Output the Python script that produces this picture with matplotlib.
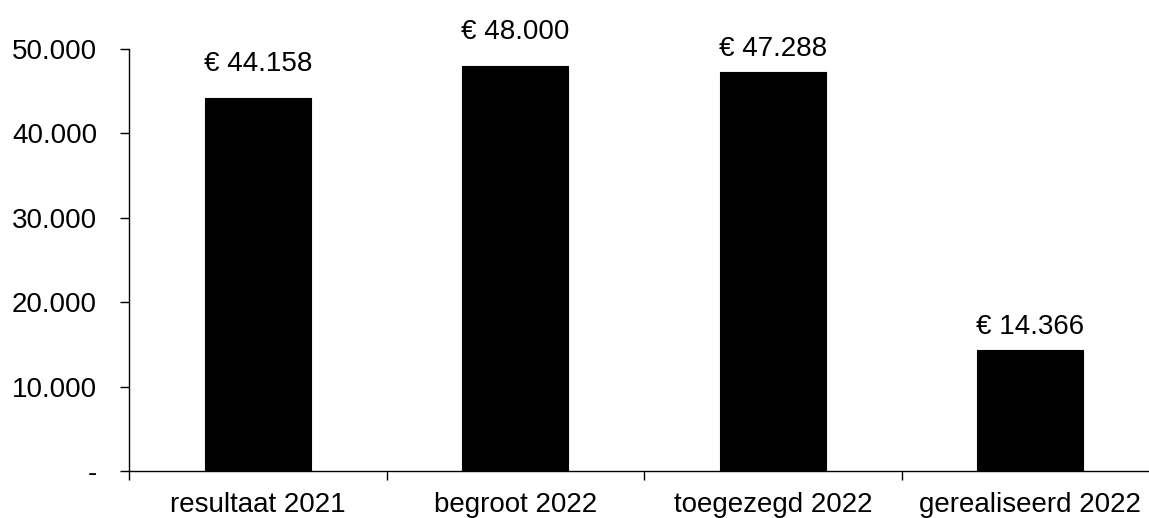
import matplotlib
matplotlib.use("Agg")
import matplotlib.pyplot as plt
from matplotlib.ticker import FixedLocator, FuncFormatter

categories = ["resultaat 2021", "begroot 2022", "toegezegd 2022", "gerealiseerd 2022"]
values = [44158, 48000, 47288, 14366]
yticks = [0, 10000, 20000, 30000, 40000, 50000]
label_gap_pt = [19.5, 19.5, 11.5, 11.5]

plt.rcParams['font.family'] = ['Liberation Sans', 'DejaVu Sans']

def fmt(v):
    return f"{int(v):,}".replace(",", ".")

fig = plt.figure(figsize=(11.49, 5.18), dpi=100)
ax = fig.add_axes([129/1149, 47/518, 1030/1149, 422/518])

x = list(range(len(categories)))
bars = ax.bar(x, values, width=0.41, color="black", edgecolor="black", linewidth=0.8)
for xi, v, g in zip(x, values, label_gap_pt):
    ax.annotate("€ " + fmt(v), (xi, v), xytext=(0, g), textcoords="offset points",
                ha="center", va="baseline", fontsize=20, annotation_clip=False)

ax.set_xlim(-0.5, len(categories) - 0.5)
ax.set_ylim(0, 50000)
ax.set_yticks(yticks)
ax.yaxis.set_major_formatter(FuncFormatter(lambda v, p: "-" if v == 0 else fmt(v)))
ax.tick_params(axis="y", length=6.5, width=1, pad=16.5, labelsize=20, direction="out")

ax.xaxis.set_major_locator(FixedLocator([i + 0.5 for i in range(-1, len(categories))]))
ax.xaxis.set_major_formatter(FuncFormatter(lambda v, p: ""))
ax.xaxis.set_minor_locator(FixedLocator(x))
ax.set_xticklabels(categories, minor=True)
ax.tick_params(axis="x", which="major", length=6.5, width=1, direction="out")
ax.tick_params(axis="x", which="minor", length=0, pad=15, labelsize=20)

for s in ["top", "right"]:
    ax.spines[s].set_visible(False)
for s in ["left", "bottom"]:
    ax.spines[s].set_linewidth(1)

fig.savefig("out.png", dpi=100)
